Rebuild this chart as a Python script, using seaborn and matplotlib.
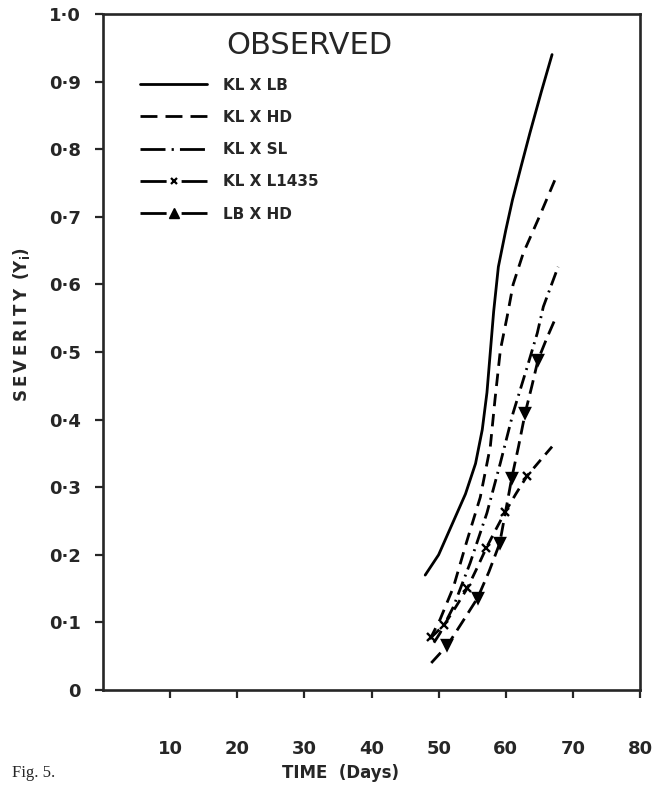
import matplotlib
matplotlib.use("Agg")
import matplotlib.pyplot as plt
from matplotlib.lines import Line2D
import seaborn as sns
import pandas as pd

sns.set_style("ticks")
plt.rcParams['font.family'] = ['DejaVu Sans']

# ---- data ----
lb_x = [48.0, 50.0, 52.0, 54.0, 55.5, 56.5, 57.2, 57.7, 58.2, 58.9, 60.0, 61.0, 62.3, 63.6, 65.3, 66.9]
lb_y = [0.17, 0.20, 0.245, 0.29, 0.335, 0.385, 0.44, 0.50, 0.56, 0.626, 0.68, 0.725, 0.775, 0.824, 0.885, 0.94]

hd_x = [48.7, 50.2, 52.2, 54.2, 56.2, 57.7, 58.4, 59.2, 60.2, 61.1, 62.6, 65.0, 67.3]
hd_y = [0.075, 0.104, 0.152, 0.22, 0.285, 0.36, 0.43, 0.503, 0.552, 0.60, 0.646, 0.70, 0.754]

sl_x = [49.3, 50.2, 52.2, 54.7, 57.2, 59.2, 61.1, 63.2, 64.7, 65.6, 67.8]
sl_y = [0.07, 0.084, 0.123, 0.188, 0.262, 0.336, 0.41, 0.478, 0.528, 0.567, 0.626]

l1435_x = [48.9, 50.8, 52.5, 54.3, 55.7, 57.1, 58.5, 59.9, 61.5, 63.2, 65.0, 66.9]
l1435_y = [0.078, 0.096, 0.122, 0.151, 0.18, 0.21, 0.237, 0.263, 0.29, 0.317, 0.338, 0.36]
l1435_marks = [0, 1, 3, 5, 7, 9]

lbhd_x = [48.9, 51.3, 53.5, 55.8, 57.5, 59.1, 60.9, 61.9, 62.9, 63.9, 64.8, 66.1, 67.5]
lbhd_y = [0.04, 0.066, 0.10, 0.136, 0.175, 0.217, 0.314, 0.36, 0.41, 0.45, 0.488, 0.52, 0.552]
lbhd_marks = [1, 3, 5, 6, 8, 10]

labels = ["KL X LB", "KL X HD", "KL X SL", "KL X L1435", "LB X HD"]
y_ticks = [0, 0.1, 0.2, 0.3, 0.4, 0.5, 0.6, 0.7, 0.8, 0.9, 1.0]
y_ticklabels = ["0", "0·1", "0·2", "0·3", "0·4", "0·5", "0·6", "0·7", "0·8", "0·9", "1·0"]
x_ticks = [10, 20, 30, 40, 50, 60, 70, 80]

# ---- figure ----
fig = plt.figure(figsize=(6.55, 7.9), dpi=100)
ax = fig.add_axes([103/655, 1 - 690/790, (640-103)/655, (690-14)/790])

lw = 2.0
series = [
    (lb_x, lb_y, dict(linestyle='-'), None, None),
    (hd_x, hd_y, dict(dashes=(4.5, 2.8)), None, None),
    (sl_x, sl_y, dict(dashes=(5.0, 2.0, 0.7, 2.0)), None, None),
    (l1435_x, l1435_y, dict(dashes=(4.0, 2.5)), 'x', l1435_marks),
    (lbhd_x, lbhd_y, dict(dashes=(5.0, 2.5)), 'v', lbhd_marks),
]
for (xs, ys, style, mk, mev), lab in zip(series, labels):
    df = pd.DataFrame({"t": xs, "s": ys})
    sns.lineplot(data=df, x="t", y="s", ax=ax, color='black', linewidth=lw,
                 sort=False, estimator=None, legend=False, **style)
    if mk is not None:
        line = ax.lines[-1]
        line.set_marker(mk)
        line.set_markevery(mev)
        line.set_markersize(7 if mk == 'v' else 5.5)
        line.set_markeredgewidth(1.7)
        line.set_markerfacecolor('black')
        line.set_markeredgecolor('black')

ax.set_xlim(0, 80)
ax.set_ylim(0, 1.0)
ax.set_xticks(x_ticks)
ax.set_xticklabels([str(v) for v in x_ticks], fontsize=13, fontweight='bold')
ax.set_yticks(y_ticks)
ax.set_yticklabels(y_ticklabels, fontsize=13, fontweight='bold')
ax.tick_params(axis='x', direction='out', length=6, width=1.6, pad=30)
ax.tick_params(axis='y', direction='out', length=6, width=1.6, pad=10)
for sp in ax.spines.values():
    sp.set_linewidth(1.9)
    sp.set_visible(True)
ax.set_xlabel("")
ax.set_ylabel("")

# legend
handles = [
    Line2D([], [], color='black', lw=lw, linestyle='-'),
    Line2D([], [], color='black', lw=lw, dashes=(6.1, 2.9)),
    Line2D([], [], color='black', lw=lw, dashes=(9.0, 2.2, 0.8, 2.2)),
    Line2D([], [], color='black', lw=lw, dashes=(9.4, 5.4), marker='x', markersize=5,
           markeredgewidth=1.6),
    Line2D([], [], color='black', lw=lw, dashes=(9.4, 5.4), marker='^', markersize=7),
]
leg = ax.legend(handles, labels, loc='upper left', bbox_to_anchor=(0.058, 0.915),
                frameon=False, handlelength=4.4, handletextpad=1.0, labelspacing=1.13,
                prop={'weight': 'bold', 'size': 11}, numpoints=1, borderaxespad=0)

ax.text(0.385, 0.975, "OBSERVED", transform=ax.transAxes, fontsize=22,
        ha='center', va='top')

ylab = "\u2009".join("SEVERITY") + "\u2009 (Y$_\\mathbf{i}$)"
fig.text(22/655, 1 - 325/790, ylab, rotation=90,
         fontsize=12, fontweight='bold', ha='center', va='center')
fig.text(340/655, 1 - 773/790, "TIME  (Days)", fontsize=12, fontweight='bold',
         ha='center', va='center')
fig.text(12/655, 1 - 773/790, "Fig. 5.", fontsize=12, family='Liberation Serif',
         ha='left', va='center')

fig.savefig("out.png", dpi=100)
